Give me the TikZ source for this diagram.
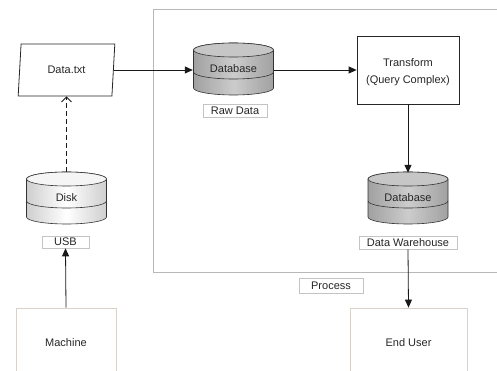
\documentclass[tikz,border=0pt]{standalone}
\usepackage{fontspec}
\setmainfont{Liberation Sans}
\usetikzlibrary{shapes.geometric,arrows.meta}
\definecolor{txt}{HTML}{262626}
\definecolor{lblline}{HTML}{C4C4C4}
\definecolor{procline}{HTML}{B8B8B8}
\definecolor{softline}{HTML}{D8D2CA}
\newcommand\dbshape[5]{% #1 x, #2 top, #3 side, #4 middle, #5 top fill
  \draw[dbline,left color=#3,right color=#3,middle color=#4]
    (#1-40,#2+7) -- (#1-40,#2+45)
    arc[start angle=180,end angle=0,x radius=40,y radius=7]
    -- (#1+40,#2+7) arc[start angle=0,end angle=-180,x radius=40,y radius=7] -- cycle;
  \draw[dbline] (#1-40,#2+29) arc[start angle=180,end angle=0,x radius=40,y radius=7];
  \draw[dbline,fill=#5] (#1,#2+7) ellipse[x radius=40,y radius=7];
}
\begin{document}
\begin{tikzpicture}[x=1pt,y=-1pt,
  every node/.style={font=\fontsize{11}{16}\selectfont,text=txt},
  dbline/.style={draw=black!80,line width=0.6pt},
  dbnode/.style={minimum width=81pt,minimum height=52pt,inner sep=0pt},
  lbl/.style={draw=lblline,fill=white,line width=0.6pt,inner sep=0pt},
  hardbox/.style={draw=black!85,line width=0.8pt,inner sep=0pt},
  softbox/.style={draw=softline,line width=0.8pt,inner sep=0pt},
  conn/.style={line width=0.8pt,draw=black!90,-{Triangle[length=8pt,width=7pt]}},
  dconn/.style={line width=0.8pt,draw=black!90,dash pattern=on 5pt off 3pt,-{Straight Barb[length=5pt,width=10pt]}}
]
\useasboundingbox (0,0) rectangle (497,371);
\clip (0,0) rectangle (497,371);
% process frame
\draw[procline,line width=0.7pt] (153,9) rectangle (510,272);
\node[lbl,minimum width=64pt,minimum height=15pt] (proc) at (331,285.5) {Process};

% Data.txt
\node[trapezium,trapezium left angle=81,trapezium right angle=99,trapezium stretches=true,
      minimum width=97pt,minimum height=52pt,hardbox] (data) at (66.5,70) {Data.txt};

% raw database
\dbshape{233.5}{43}{gray!74}{gray!40}{gray!45}
\node[dbnode] (raw) at (233.5,69) {Database};
\node[lbl,minimum width=64pt,minimum height=13pt] (rawlbl) at (235,110.5) {Raw Data};

% transform
\node[hardbox,minimum width=102pt,minimum height=68pt] (trans) at (408,70)
  {\raisebox{-4.3pt}[0pt][0pt]{\begin{tabular}{@{}c@{}}Transform\\[1pt](Query Complex)\end{tabular}}};

% warehouse database
\dbshape{408}{172}{gray!74}{gray!40}{gray!45}
\node[dbnode] (dw) at (408,198) {Database};
\node[lbl,minimum width=98pt,minimum height=13pt] (dwlbl) at (408,242.5) {Data Warehouse};

% disk
\dbshape{66.5}{172}{gray!38}{white}{gray!8}
\node[dbnode] (disk) at (66.5,198) {Disk};
\node[lbl,minimum width=47pt,minimum height=12pt] (usb) at (65.5,242) {USB};

% machine and end user
\node[softbox,minimum width=100pt,minimum height=70pt] (mach) at (66,343) {Machine};
\node[softbox,minimum width=117pt,minimum height=70pt] (user) at (408.5,343) {End User};

% connectors
\draw[conn] (data.east) -- (data.east -| raw.west);
\draw[conn] (raw.east |- trans.west) -- (trans.west);
\draw[conn] (trans.south) -- ([yshift=-1pt]dw.north);
\draw[conn] (dwlbl.south) -- (user.north);
\draw[conn] (mach.north) -- (usb.south);
\draw[dconn] (disk.north) -- (disk.north |- data.south);
\end{tikzpicture}
\end{document}
